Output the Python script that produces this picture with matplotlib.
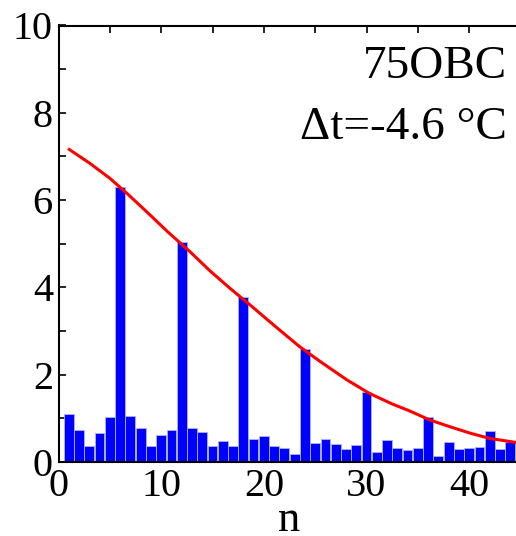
import matplotlib
matplotlib.use("Agg")
import matplotlib.pyplot as plt
from matplotlib.ticker import MultipleLocator

plt.rcParams['font.family'] = ['Liberation Serif', 'DejaVu Serif']
plt.rcParams['mathtext.fontset'] = 'stix'

# Harmonic amplitudes for n = 1..44
n = list(range(1, 45))
amplitude = [
    1.10, 0.74, 0.37, 0.66, 1.02, 6.30, 1.05, 0.79, 0.37, 0.61,
    0.74, 5.04, 0.77, 0.68, 0.37, 0.48, 0.37, 3.78, 0.53, 0.59,
    0.37, 0.33, 0.18, 2.58, 0.43, 0.53, 0.41, 0.30, 0.38, 1.61,
    0.23, 0.50, 0.33, 0.27, 0.33, 1.04, 0.14, 0.46, 0.30, 0.33,
    0.35, 0.71, 0.30, 0.45,
]

# Envelope curve
env_n = [1.05, 3.07, 5.0, 6.64, 8.6, 10.7, 12.8, 14.75, 16.7, 18.65,
         21.4, 23.5, 25.5, 28.1, 30.3, 32.5, 34.2, 36.2, 38.1, 40.1,
         42.0, 44.5, 45.0]
env_y = [7.16, 6.84, 6.50, 6.16, 5.73, 5.26, 4.82, 4.38, 3.98, 3.60,
         3.05, 2.64, 2.30, 1.88, 1.57, 1.33, 1.17, 0.96, 0.81, 0.66,
         0.54, 0.45, 0.43]

label_sample = "75OBC"
label_dt = "Δt=-4.6 °C"
x_ticks = [0, 10, 20, 30, 40]
y_ticks = [0, 2, 4, 6, 8, 10]

fig = plt.figure(figsize=(5.16, 5.36), dpi=100)
ax = fig.add_axes([58.5 / 516, 74 / 536, 462 / 516, 436.5 / 536])

ax.bar(n, amplitude, width=0.96, color='#0000ff', edgecolor='#b0b4ff',
       linewidth=0.6, zorder=2)
ax.plot(env_n, env_y, color='#ff0000', linewidth=2.2, zorder=3,
        solid_joinstyle='round')

ax.set_xlim(0, 45)
ax.set_ylim(0, 10)
ax.set_xticks(x_ticks)
ax.set_yticks(y_ticks)
ax.xaxis.set_minor_locator(MultipleLocator(5))
ax.yaxis.set_minor_locator(MultipleLocator(1))
ax.tick_params(which='both', direction='in', top=True, right=False,
               width=1.2, labelsize=29)
ax.tick_params(which='major', length=5)
ax.tick_params(which='minor', length=5)
ax.tick_params(axis='y', pad=4)
ax.tick_params(axis='x', pad=4)
ax.spines['right'].set_visible(False)
for s in ['left', 'bottom', 'top']:
    ax.spines[s].set_linewidth(1.5)

ax.set_xlabel('n', fontsize=32, labelpad=-3.5)

ax.text(0.971, 0.880, label_sample, transform=ax.transAxes, ha='right',
        va='baseline', fontsize=34)
ax.text(0.971, 0.740, label_dt, transform=ax.transAxes, ha='right',
        va='baseline', fontsize=34)

fig.savefig('out.png', dpi=100)
